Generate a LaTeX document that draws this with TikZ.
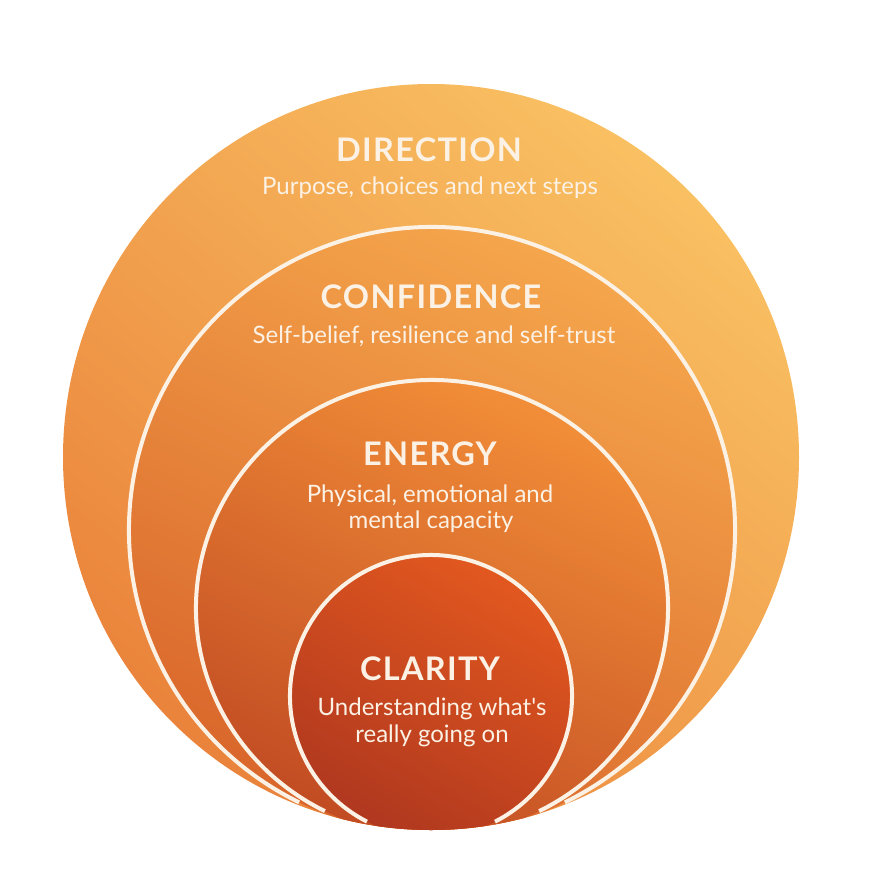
\documentclass[tikz,border=0pt]{standalone}
\usepackage{fontspec}
\setmainfont{Lato}
\newfontfamily\titlefont[LetterSpace=4]{Lato}
\newfontfamily\subfont[Ligatures=TeXOff]{Lato}
\definecolor{cream}{HTML}{FBF1E4}
\definecolor{dirA}{HTML}{F9C062}
\definecolor{dirB}{HTML}{EA833B}
\definecolor{conA}{HTML}{F5A64C}
\definecolor{conB}{HTML}{D9662B}
\definecolor{enA}{HTML}{F28E38}
\definecolor{enB}{HTML}{C24C23}
\definecolor{clA}{HTML}{E2581F}
\definecolor{clB}{HTML}{B0381F}
\tikzset{
  ring/.style={draw=cream, line width=4pt},
  ttl/.style={text=cream, anchor=base, inner sep=0pt, font=\titlefont\bfseries\fontsize{32.5}{34}\selectfont},
  sub/.style={text=cream, anchor=base, inner sep=0pt, font=\subfont\fontsize{24}{26}\selectfont},
}
\begin{document}
\begin{tikzpicture}[x=1pt,y=-1pt]
\useasboundingbox (0,0) rectangle (880,880);
\begin{scope}
  \clip (431,457) ellipse [x radius=368pt, y radius=373pt];
  \shade[top color=dirA, bottom color=dirB, shading angle=-40] (431,457) ellipse [x radius=368pt, y radius=373pt];
  \shade[top color=conA, bottom color=conB, shading angle=-25] (432,530) circle [radius=303pt];
  \draw[ring] (432,530) ++(-64:303pt) arc[start angle=-64, end angle=244, radius=303pt];
  \shade[top color=enA, bottom color=enB, shading angle=-25] (432,608) ellipse [x radius=236pt, y radius=228pt];
  \draw[ring] (432,608) ++(-63:236pt and 228pt) arc[start angle=-63, end angle=243, x radius=236pt, y radius=228pt];
  \shade[top color=clA, bottom color=clB, shading angle=-30] (431,696) circle [radius=141pt];
  \draw[ring] (431,696) ++(-63:141pt) arc[start angle=-63, end angle=243, radius=141pt];
\end{scope}
\node[ttl] (t1) at (429,161) {DIRECTION};
\node[sub] (s1) at (430,194) {Purpose, choices and next steps};
\node[ttl] (t2) at (431,308) {CONFIDENCE};
\node[sub] (s2) at (434,343) {Self-belief, resilience and self-trust};
\node[ttl] (t3) at (430,465) {ENERGY};
\node[sub] (s3a) at (430,502) {Physical, emotional and};
\node[sub] (s3b) at (431,528) {mental capacity};
\node[ttl] (t4) at (430,680) {CLARITY};
\node[sub] (s4a) at (432,715) {Understanding what's};
\node[sub] (s4b) at (432,742) {really going on};
\end{tikzpicture}
\end{document}
